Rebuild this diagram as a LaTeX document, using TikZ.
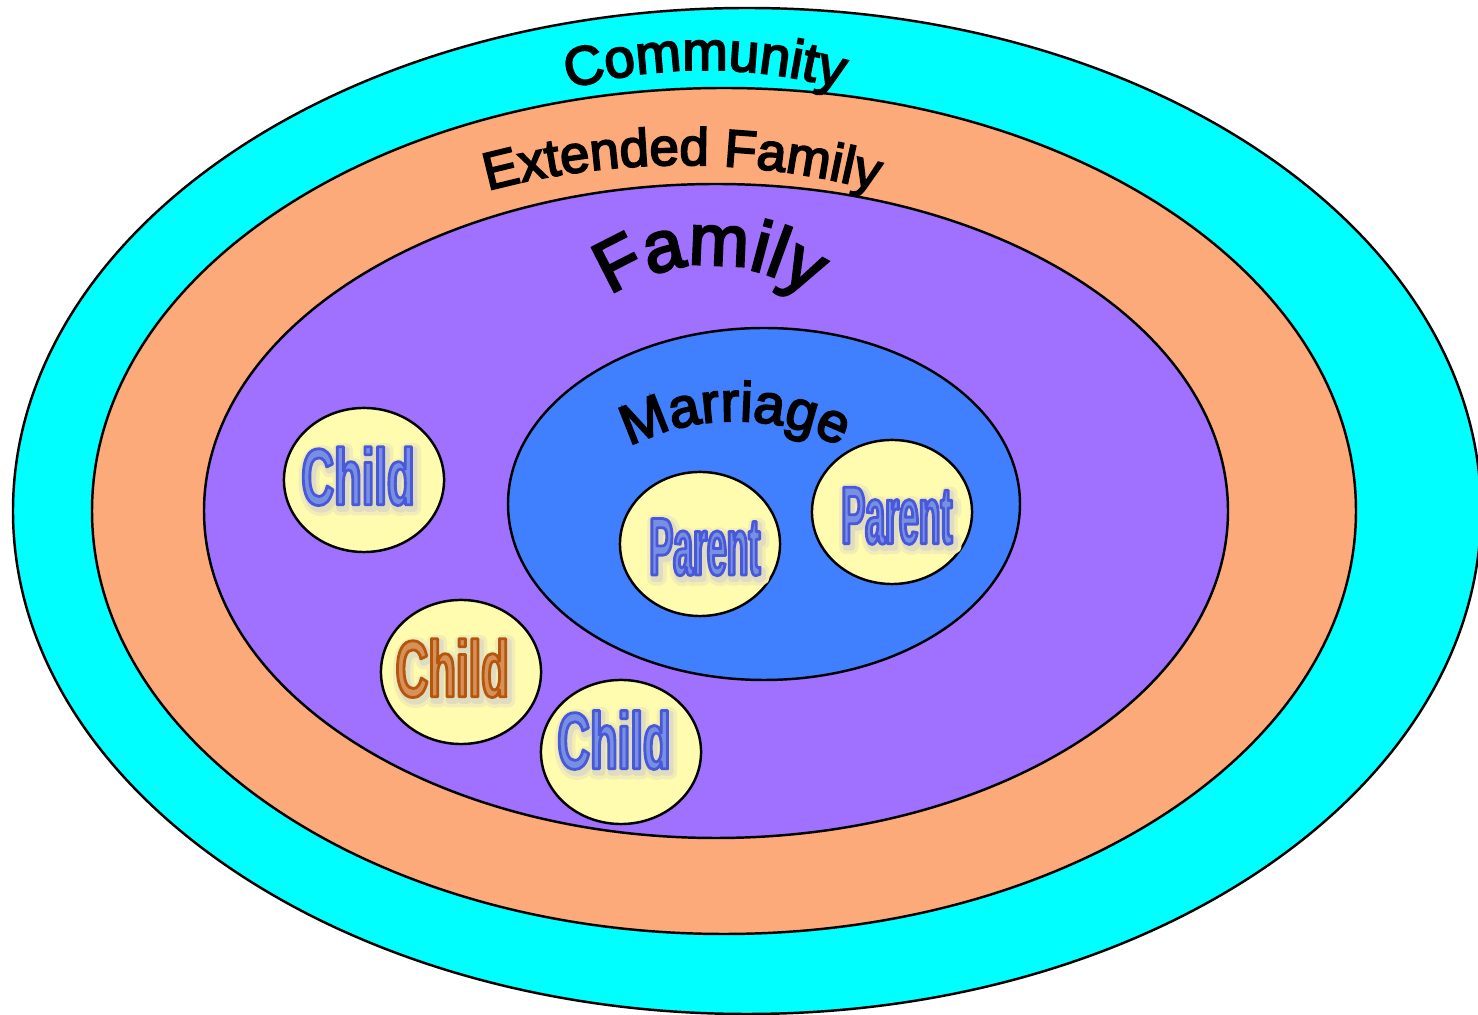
\documentclass[tikz,border=0pt]{standalone}
\usepackage{fontspec}
\setmainfont{Liberation Sans}
\newfontfamily\ringfont[FakeBold=3.5]{Liberation Sans}
\newfontfamily\childfont[FakeStretch=0.565]{Liberation Sans Bold}
\newfontfamily\parentfont[FakeStretch=0.435]{Liberation Sans Bold}
\usetikzlibrary{shapes.geometric,decorations.text}

\definecolor{commcyan}{HTML}{00FFFF}
\definecolor{extpeach}{HTML}{FDAA7B}
\definecolor{fampurple}{HTML}{A070FF}
\definecolor{marblue}{HTML}{4080FF}
\definecolor{pale}{HTML}{FFFBAF}
\definecolor{softblue}{HTML}{7890E4}
\definecolor{softrust}{HTML}{D89058}
\definecolor{glowA}{HTML}{F1EDB4}
\definecolor{glowB}{HTML}{E0DCC0}

% stroked word: #1 stroke colour as "r g b", #2 stroke width (bp), #3 fill colour, #4 word
\newcommand{\strokeword}[4]{{\color{#3}\special{pdf:literal direct #1 RG #2 w 1 j 1 J 2 Tr}#4\special{pdf:literal direct 0 Tr}}}
% outlined word with a soft shadow behind it
\newcommand{\glowword}[3]{%
  \makebox[0pt][l]{\hspace{0.7pt}\raisebox{-1pt}[0pt][0pt]{\strokeword{0.945 0.929 0.706}{4}{glowA}{#3}}}%
  \makebox[0pt][l]{\hspace{0.7pt}\raisebox{-1pt}[0pt][0pt]{\strokeword{0.878 0.863 0.753}{2}{glowB}{#3}}}%
  \strokeword{#1}{0.8}{#2}{#3}}
% move a word inside its box without changing the box
\newcommand{\nudge}[3]{\raisebox{#2}[\height][\depth]{\hspace{#1}#3\hspace{-#1}}}

\begin{document}
\begin{tikzpicture}[x=0.01cm, y=0.01cm]
\useasboundingbox (0,0) rectangle (1478,1015);
\tikzstyle{ring} = [draw, line width=0.7pt]
\tikzstyle{person} = [ellipse, draw, line width=0.7pt, fill=pale, inner sep=0pt, minimum width=1.6cm, minimum height=1.44cm]
\tikzstyle{child text} = [font=\childfont\fontsize{22.8pt}{26pt}\selectfont]
\tikzstyle{parent text} = [font=\parentfont\fontsize{23.3pt}{26pt}\selectfont]
\tikzstyle{arc label} = [decorate, decoration={text along path, text align=center}]
\coordinate (O1) at (747,504);
\coordinate (O2) at (724,504);
\coordinate (O3) at (716,504);
\coordinate (O4) at (764,511);
	\filldraw[ring, fill=commcyan] (O1) ellipse [x radius=734, y radius=503];
	\filldraw[ring, fill=extpeach] (O2) ellipse [x radius=632, y radius=423];
	\filldraw[ring, fill=fampurple] (O3) ellipse [x radius=512, y radius=327];
	\filldraw[ring, fill=marblue] (O4) ellipse [x radius=256, y radius=176];
\node[person, child text] (child1) at (364,535) {\nudge{-1.7pt}{1.1pt}{\glowword{0.282 0.345 0.847}{softblue}{Child}}};
\node[person, child text] (child2) at (461,343) {\nudge{-2.5pt}{1.1pt}{\glowword{0.706 0.337 0.055}{softrust}{Child}}};
\node[person, child text] (child3) at (621,263) {\nudge{-2pt}{3.4pt}{\glowword{0.282 0.345 0.847}{softblue}{Child}}};
\node[person, parent text] (parent1) at (700,471) {\nudge{1.4pt}{-0.9pt}{\glowword{0.282 0.345 0.847}{softblue}{Parent}}};
\node[person, parent text] (parent2) at (892,503) {\nudge{1.4pt}{-1.1pt}{\glowword{0.282 0.345 0.847}{softblue}{Parent}}};
	\path[arc label, decoration={text={|\ringfont\fontsize{15.5pt}{18pt}\selectfont|Community}}] (705,445) ++(125:500) arc [start angle=125, end angle=55, radius=500];
	\path[arc label, decoration={text={|\ringfont\fontsize{15pt}{18pt}\selectfont|Extended Family}}] (682,100) ++(120:750) arc [start angle=120, end angle=60, radius=750];
	\path[arc label, decoration={text={|\ringfont\fontsize{20.5pt}{24pt}\selectfont|Family}}] (710,572) ++(150:178) arc [start angle=150, end angle=30, radius=178];
	\path[arc label, decoration={text={|\ringfont\fontsize{15.8pt}{19pt}\selectfont|Marriage}}] (735,364) ++(140:230) arc [start angle=140, end angle=40, radius=230];
\end{tikzpicture}
\end{document}
